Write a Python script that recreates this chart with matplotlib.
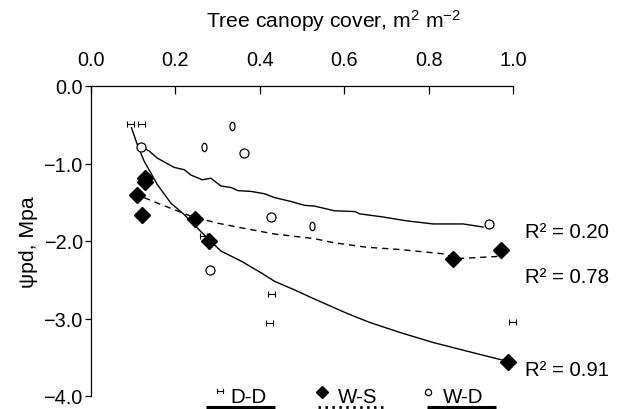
import matplotlib
matplotlib.use("Agg")
import matplotlib.pyplot as plt
import numpy as np
from matplotlib.path import Path
from matplotlib.lines import Line2D

plt.rcParams['font.family'] = ['Liberation Sans', 'DejaVu Sans']
plt.rcParams['mathtext.fontset'] = 'custom'
plt.rcParams['mathtext.rm'] = 'Liberation Sans'
plt.rcParams['mathtext.it'] = 'Liberation Sans:italic'

# ---- data ----
dd_x = [0.094, 0.119, 0.266, 0.427, 0.423, 0.998]
dd_y = [-0.49, -0.49, -1.94, -2.69, -3.06, -3.05]

ws_x = [0.128, 0.128, 0.108, 0.122, 0.246, 0.280, 0.857, 0.971, 0.988]
ws_y = [-1.19, -1.24, -1.40, -1.66, -1.71, -2.00, -2.23, -2.12, -3.56]

wd_x = [0.119, 0.362, 0.427, 0.281, 0.944]
wd_y = [-0.79, -0.86, -1.69, -2.38, -1.78]
wd_small_x = [0.334, 0.268, 0.523]
wd_small_y = [-0.51, -0.79, -1.80]

dd_fit_x = [0.096, 0.110, 0.126, 0.157, 0.189, 0.221, 0.268, 0.308, 0.356, 0.403,
            0.435, 0.482, 0.530, 0.605, 0.660, 0.732, 0.811, 0.890, 0.985]
dd_fit_y = [-0.54, -0.76, -0.97, -1.27, -1.51, -1.66, -1.92, -2.13, -2.26, -2.41,
            -2.52, -2.63, -2.75, -2.93, -3.05, -3.18, -3.31, -3.42, -3.55]

wd_fit_x = [0.118, 0.138, 0.157, 0.177, 0.197, 0.221, 0.237, 0.264, 0.284, 0.308,
            0.332, 0.348, 0.379, 0.411, 0.435, 0.474, 0.506, 0.530, 0.577, 0.625,
            0.637, 0.692, 0.748, 0.811, 0.882, 0.929]
wd_fit_y = [-0.78, -0.84, -0.93, -0.99, -1.05, -1.08, -1.15, -1.21, -1.19, -1.29,
            -1.31, -1.35, -1.36, -1.39, -1.44, -1.49, -1.54, -1.55, -1.61, -1.62,
            -1.65, -1.69, -1.74, -1.78, -1.78, -1.82]

ws_fit_x = [0.126, 0.157, 0.237, 0.300, 0.356, 0.435, 0.530, 0.573, 0.652, 0.732,
            0.843, 0.857, 0.961, 0.971]
ws_fit_y = [-1.44, -1.51, -1.68, -1.77, -1.83, -1.91, -1.97, -2.02, -2.08, -2.11,
            -2.17, -2.23, -2.20, -2.12]

r2_labels = ["R² = 0.20", "R² = 0.78", "R² = 0.91"]
legend_labels = ["D-D", "W-S", "W-D"]
xticks = [0.0, 0.2, 0.4, 0.6, 0.8, 1.0]
yticks = [0.0, -1.0, -2.0, -3.0, -4.0]

W, H = 618, 410
fig = plt.figure(figsize=(W / 100, H / 100), dpi=100)

def fx(px):
    return px / W

def fy(py):
    return 1 - py / H

ax = fig.add_axes([fx(91), fy(397), fx(513) - fx(91), fy(87) - fy(397)])
ax.set_xlim(0, 1)
ax.set_ylim(-4, 0)

# curves
ax.plot(dd_fit_x, dd_fit_y, color='black', lw=1.0)
ax.plot(wd_fit_x, wd_fit_y, color='black', lw=1.0)
ax.plot(ws_fit_x, ws_fit_y, color='black', lw=1.0, dashes=(4.5, 3.5))

# points
ax.errorbar(dd_x, dd_y, xerr=0.008, fmt='none', ecolor='black', elinewidth=0.8,
            capsize=2.2, capthick=0.8, clip_on=False, zorder=3)
ax.plot(ws_x, ws_y, 'D', color='black', ms=8, clip_on=False, zorder=4)
ax.plot(wd_x, wd_y, 'o', mfc='white', mec='black', mew=0.9, ms=6.5, clip_on=False, zorder=4)

t = np.linspace(0, 2 * np.pi, 40)
oval = Path(np.column_stack([0.6 * np.cos(t), np.sin(t)]))
ax.plot(wd_small_x, wd_small_y, linestyle='none', marker=oval, mfc='white', mec='black',
        mew=0.9, ms=6, clip_on=False, zorder=4)

# axes styling
for s in ['right', 'bottom']:
    ax.spines[s].set_visible(False)
for s in ['top', 'left']:
    ax.spines[s].set_linewidth(0.9)
ax.xaxis.tick_top()
ax.set_xticks(xticks)
ax.set_xticklabels([f"{v:.1f}" for v in xticks])
ax.set_yticks(yticks)
ax.set_yticklabels([f"{v:.1f}".replace('-', '\u2212') for v in yticks])
ax.tick_params(axis='x', direction='in', length=6, width=0.9, labelsize=14.3, pad=12)
ax.tick_params(axis='y', direction='out', length=4, width=0.9, labelsize=14.3, pad=2)
ax.set_ylabel("ψpd, Mpa", fontsize=15.3, labelpad=4)

# axis title at top
fig.text(fx(334), fy(28), "Tree canopy cover, m$^{2}$ m$^{-2}$", fontsize=15.2,
         ha='center', va='baseline')

# R^2 labels
for lab, py in zip(r2_labels, [238, 283, 376.5]):
    fig.text(fx(525), fy(py), lab, fontsize=14.7, va='baseline', ha='left')

# custom legend
leg_y = fy(403.3)
fig.text(fx(230), leg_y, legend_labels[0], fontsize=14.8, va='baseline', ha='left')
fig.text(fx(338), leg_y, legend_labels[1], fontsize=14.8, va='baseline', ha='left')
fig.text(fx(443), leg_y, legend_labels[2], fontsize=14.8, va='baseline', ha='left')

# legend symbols
lx = fx(220); ly = fy(392)
dx = 3 / W; dy = 2 / H
fig.add_artist(Line2D([lx - dx, lx + dx], [ly, ly], color='black', lw=0.8, transform=fig.transFigure))
fig.add_artist(Line2D([lx - dx, lx - dx], [ly - dy, ly + dy], color='black', lw=0.8, transform=fig.transFigure))
fig.add_artist(Line2D([lx + dx, lx + dx], [ly - dy, ly + dy], color='black', lw=0.8, transform=fig.transFigure))
fig.add_artist(Line2D([fx(322)], [fy(393)], marker='D', color='black', ms=6, transform=fig.transFigure))
fig.add_artist(Line2D([fx(428)], [fy(393)], marker='o', mfc='white', mec='black', mew=0.9, ms=4.5,
                      transform=fig.transFigure))

# underlines
fig.add_artist(Line2D([fx(206), fx(275)], [fy(408), fy(408)], color='black', lw=2.2,
                      solid_capstyle='butt', transform=fig.transFigure))
fig.add_artist(Line2D([fx(318), fx(384)], [fy(408), fy(408)], color='black', lw=2.0,
                      dashes=(0.9, 1.6), transform=fig.transFigure))
fig.add_artist(Line2D([fx(427), fx(496)], [fy(408), fy(408)], color='black', lw=2.2,
                      solid_capstyle='butt', transform=fig.transFigure))

fig.savefig("out.png", dpi=100)
